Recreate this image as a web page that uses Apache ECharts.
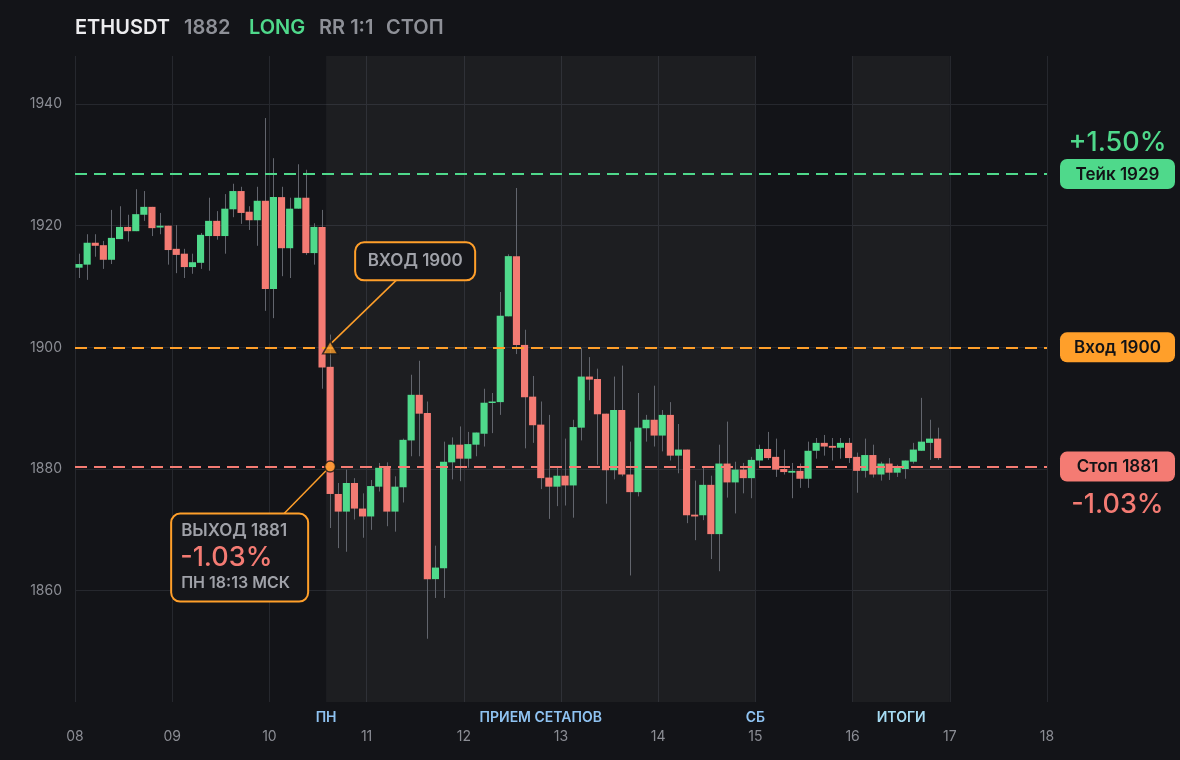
<!DOCTYPE html>
<html>
<head>
<meta charset="utf-8">
<script src="https://cdn.jsdelivr.net/npm/echarts@6/dist/echarts.min.js"></script>
<style>
html,body{margin:0;padding:0;background:#131418;}
#c{width:1180px;height:760px;}
</style>
</head>
<body>
<div id="c"></div>
<script>
// ---------- header ----------
const tickerName = 'ETHUSDT';
const lastPrice = '1882';
const tradeSide = 'LONG';
const riskReward = 'RR 1:1';
const tradeResult = 'СТОП';

// ---------- candles (2h bars, first bar opens on day 08 00:00) ----------
const firstDay = 8;
const barHours = 2;
const opens = [
 1913.1,1913.6,1917.2,1916.8,1914.4,1917.8,1919.8,1919.1,1921.8,1923.1,1919.7,1920.0,
 1916.2,1915.4,1913.2,1913.9,1918.3,1920.8,1918.3,1922.7,1925.7,1922.3,1920.9,1924.1,
 1909.6,1924.7,1916.3,1922.8,1924.6,1915.5,1919.8,1896.8,1875.9,1873.0,1877.7,1873.5,
 1872.2,1877.1,1880.2,1873.0,1877.0,1884.7,1892.2,1889.2,1861.9,1863.7,1881.1,1884.0,
 1881.7,1884.0,1885.8,1890.9,1891.0,1905.1,1915.0,1900.4,1891.9,1887.3,1878.6,1877.1,
 1878.9,1877.3,1886.8,1895.2,1894.8,1889.1,1879.8,1889.7,1879.1,1876.2,1886.7,1888.1,
 1885.5,1888.9,1882.2,1883.2,1872.5,1872.4,1877.4,1869.3,1880.9,1877.8,1879.9,1878.5,
 1881.4,1883.3,1882.0,1880.0,1879.4,1879.7,1878.4,1883.0,1884.3,1883.8,1883.5,1884.3,
 1882.0,1879.7,1882.3,1879.1,1880.9,1879.4,1880.0,1881.2,1883.0,1884.3,1885.0
];
const closes = [
 1913.7,1917.2,1916.7,1914.4,1918.0,1919.8,1919.1,1921.9,1923.1,1919.6,1920.0,1916.0,
 1915.2,1913.2,1914.0,1918.5,1920.8,1918.3,1922.8,1925.7,1922.1,1920.9,1924.1,1909.6,
 1924.7,1916.3,1922.8,1924.6,1915.5,1919.8,1896.7,1875.9,1873.0,1877.7,1873.5,1872.2,
 1877.2,1880.2,1873.0,1877.1,1884.8,1892.2,1889.1,1861.9,1863.8,1881.2,1884.0,1881.7,
 1884.1,1886.0,1890.9,1891.1,1905.2,1915.0,1900.4,1891.8,1887.2,1878.5,1877.1,1878.9,
 1877.3,1886.9,1895.2,1894.7,1889.0,1879.8,1889.7,1879.1,1876.2,1886.8,1888.1,1885.5,
 1888.9,1882.2,1883.2,1872.4,1872.2,1877.4,1869.3,1880.9,1877.8,1879.9,1878.5,1881.5,
 1883.3,1881.8,1879.9,1879.5,1879.7,1878.4,1883.0,1884.3,1883.7,1883.5,1884.3,1881.8,
 1879.7,1882.3,1879.1,1880.9,1879.4,1880.2,1881.4,1883.2,1884.5,1885.0,1881.8
];
const lows = [
 1911.4,1911.1,1914.9,1912.9,1913.7,1917.8,1917.4,1919.1,1920.8,1918.3,1918.6,1913.6,
 1912.2,1911.4,1912.1,1912.9,1912.6,1917.7,1915.4,1921.4,1920.3,1919.3,1916.7,1906.0,
 1904.8,1911.7,1911.4,1922.8,1915.2,1913.6,1893.2,1870.3,1867.0,1866.4,1871.7,1868.7,
 1870.0,1876.3,1870.6,1869.7,1874.5,1882.1,1882.1,1852.1,1858.8,1858.8,1878.3,1878.0,
 1880.2,1882.1,1883.7,1885.9,1888.9,1905.1,1898.9,1883.4,1884.3,1876.7,1871.8,1873.9,
 1874.0,1872.0,1884.7,1891.3,1880.7,1874.3,1878.3,1878.8,1862.5,1875.5,1884.5,1883.7,
 1882.9,1881.4,1879.3,1871.1,1868.3,1871.6,1865.2,1863.2,1875.3,1872.7,1876.0,1875.2,
 1880.3,1881.5,1878.7,1879.1,1875.2,1876.9,1876.9,1881.7,1882.2,1881.4,1881.7,1881.0,
 1876.1,1878.6,1878.6,1878.1,1878.2,1878.7,1878.4,1880.9,1883.0,1881.5,1881.5
];
const highs = [
 1915.4,1918.6,1918.6,1917.5,1922.6,1923.2,1921.8,1926.0,1925.7,1923.1,1922.1,1920.0,
 1920.1,1916.2,1915.4,1918.8,1924.6,1922.4,1925.2,1926.9,1926.4,1923.2,1926.4,1937.7,
 1931.1,1926.4,1924.6,1930.1,1929.2,1920.4,1922.6,1902.1,1877.7,1879.9,1878.5,1876.0,
 1878.2,1881.0,1881.1,1878.8,1885.0,1895.5,1897.8,1891.1,1867.4,1884.5,1885.2,1887.0,
 1886.1,1886.0,1893.2,1892.5,1909.1,1915.3,1926.2,1902.9,1895.3,1891.1,1888.9,1880.3,
 1885.0,1888.1,1899.9,1898.4,1896.5,1889.1,1895.2,1897.0,1884.5,1892.5,1888.9,1893.7,
 1889.7,1891.0,1887.4,1883.2,1878.1,1880.4,1878.9,1884.0,1887.8,1881.2,1881.0,1882.0,
 1884.0,1886.1,1885.0,1883.2,1881.0,1880.9,1884.5,1885.1,1885.6,1885.1,1885.1,1885.1,
 1882.7,1885.0,1884.0,1881.2,1881.8,1880.7,1881.4,1884.3,1891.7,1888.1,1886.8
];

// ---------- trade levels ----------
const takePrice = 1928.5;
const entryPrice = 1900;
const stopPrice = 1880.4;
const takeTag = 'Тейк 1929';
const entryTag = 'Вход 1900';
const stopTag = 'Стоп 1881';
const takePct = '+1.50%';
const stopPct = '-1.03%';
const entryDay = 10 + 15 / 24;   // bar of day 10, 14:00–16:00
const exitDay = 10 + 15 / 24;
const entryNote = 'ВХОД 1900';
const exitNoteTitle = 'ВЫХОД 1881';
const exitNotePct = '-1.03%';
const exitNoteTime = 'ПН 18:13 МСК';

// ---------- axes ----------
const dayMin = 8, dayMax = 18, dayStep = 1;
const priceMin = 1841.7, priceMax = 1947.9;
const priceTicks = [1860, 1880, 1900, 1920, 1940];
const sessionStarts = [10 + 14 / 24, 16];
const sessionEnds = [15, 17];
const sessionLabels = ['ПН', 'ПРИЕМ СЕТАПОВ', 'СБ', 'ИТОГИ'];
const sessionLabelDays = [10 + 14 / 24, 12.7917, 15, 16.5];

// ---------- style ----------
const C = {
  bg: '#131418', grid: '#26282e', axisText: '#8b8d94',
  green: '#4fd98b', red: '#f47b73', orange: '#ff9f2a', wick: '#62656d',
  title: '#ececee', grey: '#8e9097', blue: '#8fc3f2', blue2: '#a6dcf4',
  boxText: '#a0a2a9', font: 'Inter'
};

const candles = opens.map((o, i) => [firstDay + (i * barHours + barHours / 2) / 24, o, closes[i], lows[i], highs[i]]);

const chart = echarts.init(document.getElementById('c'), null, { renderer: 'canvas' });

const titleFont = `600 20px ${C.font}`;
const titleParts = [
  { text: tickerName, color: C.title, left: 75 },
  { text: lastPrice, color: C.grey, left: 184 },
  { text: tradeSide, color: C.green, left: 249 },
  { text: riskReward, color: C.grey, left: 319 },
  { text: tradeResult, color: C.grey, left: 386 }
];

const option = {
  backgroundColor: C.bg,
  animation: false,
  textStyle: { fontFamily: C.font },
  grid: { left: 75, right: 133, top: 56, bottom: 58 },
  xAxis: [{
    type: 'value', min: dayMin, max: dayMax, interval: dayStep,
    axisLine: { show: false }, axisTick: { show: false },
    axisLabel: { color: C.axisText, fontSize: 14, margin: 28, formatter: v => String(v).padStart(2, '0') },
    splitLine: { show: true, lineStyle: { color: C.grid, width: 1 } }
  }, {
    type: 'value', min: dayMin, max: dayMax, position: 'bottom', gridIndex: 0,
    axisLine: { show: false }, axisTick: { show: false }, splitLine: { show: false },
    axisLabel: {
      customValues: sessionLabelDays, margin: 9, fontSize: 14, fontWeight: 600,
      formatter: v => {
        let k = 0, best = Infinity;
        sessionLabelDays.forEach((d, j) => { if (Math.abs(d - v) < best) { best = Math.abs(d - v); k = j; } });
        return k === sessionLabels.length - 1 ? `{b|${sessionLabels[k]}}` : `{a|${sessionLabels[k]}}`;
      },
      rich: {
        a: { color: C.blue, fontSize: 14, fontWeight: 600, fontFamily: C.font },
        b: { color: C.blue2, fontSize: 14, fontWeight: 600, fontFamily: C.font }
      }
    }
  }],
  yAxis: {
    type: 'value', min: priceMin, max: priceMax, scale: true,
    axisLine: { show: false },
    axisTick: { show: false, customValues: priceTicks },
    axisLabel: { customValues: priceTicks, color: C.axisText, fontSize: 14, margin: 13, formatter: v => String(v) },
    splitLine: { show: true, lineStyle: { color: C.grid, width: 1 } }
  },
  series: [{
    type: 'line', name: 'sessions', data: [], z: 1,
    markArea: {
      silent: true,
      itemStyle: { color: 'rgba(255,255,255,0.045)' },
      data: sessionStarts.map((s, i) => [{ xAxis: s }, { xAxis: sessionEnds[i] }])
    }
  }, {
    type: 'custom', name: 'candles', z: 3,
    dimensions: ['t', 'open', 'close', 'low', 'high'],
    encode: { x: 0, y: [1, 2, 3, 4] },
    data: candles,
    renderItem: (params, api) => {
      const x = api.value(0), o = api.value(1), c = api.value(2), l = api.value(3), h = api.value(4);
      const pH = api.coord([x, h]), pL = api.coord([x, l]);
      const pO = api.coord([x, o]), pC = api.coord([x, c]);
      const w = api.size([barHours / 24, 0])[0] * 0.88;
      const top = Math.min(pO[1], pC[1]);
      const ht = Math.max(Math.abs(pO[1] - pC[1]), 1.5);
      const wx = Math.round(pH[0]) + 0.5;
      return {
        type: 'group',
        children: [
          { type: 'line', shape: { x1: wx, y1: pH[1], x2: wx, y2: pL[1] }, style: { stroke: C.wick, lineWidth: 1 } },
          { type: 'rect', shape: { x: pO[0] - w / 2, y: top, width: w, height: ht }, style: { fill: c >= o ? C.green : C.red } }
        ]
      };
    }
  }, {
    type: 'line', name: 'levels', data: [], z: 4,
    markLine: {
      silent: true, symbol: 'none', label: { show: false },
      data: [
        { yAxis: takePrice, lineStyle: { color: C.green, type: [12, 7], width: 2 } },
        { yAxis: entryPrice, lineStyle: { color: C.orange, type: [12, 7], width: 2 } },
        { yAxis: stopPrice, lineStyle: { color: C.red, type: [12, 7], width: 2 } }
      ]
    }
  }, {
    type: 'scatter', name: 'entry', z: 8,
    symbol: 'triangle', symbolSize: [15, 13],
    itemStyle: { color: C.orange, borderColor: C.bg, borderWidth: 1.5 },
    data: [[entryDay, entryPrice]]
  }, {
    type: 'scatter', name: 'exit', z: 8,
    symbol: 'circle', symbolSize: 11,
    itemStyle: { color: C.orange, borderColor: C.bg, borderWidth: 1.5 },
    data: [[exitDay, stopPrice]]
  }]
};

chart.setOption(option);

function placeAnnotations() {
  const E = chart.convertToPixel({ gridIndex: 0 }, [entryDay, entryPrice]);
  const X = chart.convertToPixel({ gridIndex: 0 }, [exitDay, stopPrice]);
  const T = chart.convertToPixel({ gridIndex: 0 }, [dayMax, takePrice]);
  const N = chart.convertToPixel({ gridIndex: 0 }, [dayMax, entryPrice]);
  const S = chart.convertToPixel({ gridIndex: 0 }, [dayMax, stopPrice]);
  const tagX = T[0] + 13, tagW = 115, tagH = 30, tagC = tagX + tagW / 2;
  const tag = (y, fill, text) => ([
    { type: 'rect', z: 9, shape: { x: tagX, y: y - tagH / 2, width: tagW, height: tagH, r: 7 }, style: { fill } },
    { type: 'text', z: 10, style: { x: tagC, y: y + 0.5, text, fill: '#121316', font: `600 17px ${C.font}`, align: 'center', verticalAlign: 'middle' } }
  ]);
  const els = [
    ...titleParts.map(p => ({ type: 'text', z: 10, style: { x: p.left, y: 28, text: p.text, fill: p.color, font: titleFont, align: 'left', verticalAlign: 'middle' } })),
    ...tag(T[1], C.green, takeTag),
    ...tag(N[1], C.orange, entryTag),
    ...tag(S[1], C.red, stopTag),
    { type: 'text', z: 10, style: { x: tagC, y: T[1] - 31, text: takePct, fill: C.green, font: `500 27px ${C.font}`, align: 'center', verticalAlign: 'middle' } },
    { type: 'text', z: 10, style: { x: tagC, y: S[1] + 38, text: stopPct, fill: C.red, font: `500 27px ${C.font}`, align: 'center', verticalAlign: 'middle' } },
    // entry callout
    { type: 'line', z: 7, shape: { x1: E[0] + 66, y1: E[1] - 67, x2: E[0] + 1, y2: E[1] - 4 }, style: { stroke: C.orange, lineWidth: 1.5 } },
    { type: 'rect', z: 9, shape: { x: E[0] + 25, y: E[1] - 105, width: 120, height: 38, r: 9 }, style: { fill: '#15161a', stroke: C.orange, lineWidth: 2 } },
    { type: 'text', z: 10, style: { x: E[0] + 85, y: E[1] - 86, text: entryNote, fill: C.boxText, font: `600 17px ${C.font}`, align: 'center', verticalAlign: 'middle' } },
    // exit callout
    { type: 'line', z: 7, shape: { x1: X[0] - 46, y1: X[1] + 47, x2: X[0], y2: X[1] }, style: { stroke: C.orange, lineWidth: 1.5 } },
    { type: 'rect', z: 9, shape: { x: X[0] - 159, y: X[1] + 47, width: 137, height: 88, r: 9 }, style: { fill: '#15161a', stroke: C.orange, lineWidth: 2 } },
    { type: 'text', z: 10, style: { x: X[0] - 149, y: X[1] + 64, text: exitNoteTitle, fill: C.boxText, font: `600 17px ${C.font}`, align: 'left', verticalAlign: 'middle' } },
    { type: 'text', z: 10, style: { x: X[0] - 150, y: X[1] + 91, text: exitNotePct, fill: C.red, font: `500 27px ${C.font}`, align: 'left', verticalAlign: 'middle' } },
    { type: 'text', z: 10, style: { x: X[0] - 149, y: X[1] + 117, text: exitNoteTime, fill: C.boxText, font: `600 16px ${C.font}`, align: 'left', verticalAlign: 'middle' } }
  ];
  chart.setOption({ graphic: { elements: els } });
}
placeAnnotations();
</script>
</body>
</html>
